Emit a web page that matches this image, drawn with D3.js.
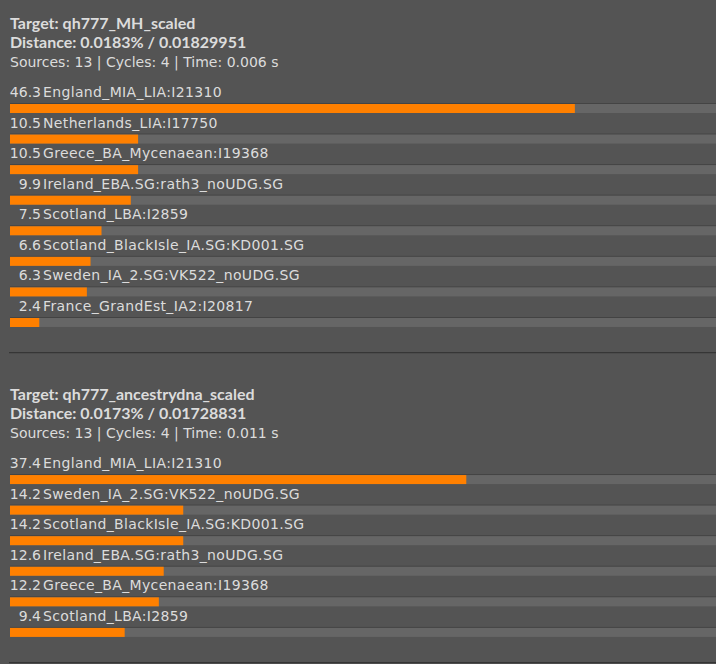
<!DOCTYPE html>
<html>
<head>
<meta charset="utf-8">
<script src="https://cdn.jsdelivr.net/npm/d3@7"></script>
<style>
  html, body { margin: 0; padding: 0; background: #545454; overflow: hidden; }
  text { font-family: "DejaVu Sans", sans-serif; fill: #dcdcdc; }
  text.head { font-family: Lato, sans-serif; font-weight: bold; font-size: 16px; }
  text.meta { font-size: 14px; }
  text.val { font-size: 14px; }
  text.lab { font-size: 14px; letter-spacing: 0.35px; }
</style>
</head>
<body>
<div id="chart"></div>
<script>
// run headers
const targets = ["qh777_MH_scaled", "qh777_ancestrydna_scaled"]
const distances = ["0.0183% / 0.01829951", "0.0173% / 0.01728831"]
const sources = [13, 13]
const cycles = [4, 4]
const times = ["0.006", "0.011"]

// per-run results
const labels1 = ["England_MIA_LIA:I21310", "Netherlands_LIA:I17750", "Greece_BA_Mycenaean:I19368",
                 "Ireland_EBA.SG:rath3_noUDG.SG", "Scotland_LBA:I2859", "Scotland_BlackIsle_IA.SG:KD001.SG",
                 "Sweden_IA_2.SG:VK522_noUDG.SG", "France_GrandEst_IA2:I20817"]
const values1 = [46.3, 10.5, 10.5, 9.9, 7.5, 6.6, 6.3, 2.4]
const labels2 = ["England_MIA_LIA:I21310", "Sweden_IA_2.SG:VK522_noUDG.SG", "Scotland_BlackIsle_IA.SG:KD001.SG",
                 "Ireland_EBA.SG:rath3_noUDG.SG", "Greece_BA_Mycenaean:I19368", "Scotland_LBA:I2859"]
const values2 = [37.4, 14.2, 14.2, 12.6, 12.2, 9.4]

const runs = [
    { labels: labels1, values: values1 },
    { labels: labels2, values: values2 }
]

const width = 716, height = 664
const rowStep = 30.57
const rowsTop = 103      // first track top, relative to block
const left = 10

const svg = d3.select("#chart").append("svg")
    .attr("width", width).attr("height", height)

// percent -> px (bars run past the window edge)
const x = d3.scaleLinear().domain([0, 100]).range([left, left + 1220])

let blockTop = 0
runs.forEach((run, r) => {
    const g = svg.append("g").attr("transform", `translate(0,${blockTop})`)
    const n = run.values.length
    const y = d3.scaleBand()
        .domain(d3.range(n))
        .range([rowsTop, rowsTop + n * rowStep])

    g.append("text").attr("class", "head").attr("x", left).attr("y", 28.5)
        .text(`Target: ${targets[r]}`)
    g.append("text").attr("class", "head").attr("x", left).attr("y", 47.5)
        .text(`Distance: ${distances[r]}`)
    g.append("text").attr("class", "meta").attr("x", left).attr("y", 66.5)
        .text(`Sources: ${sources[r]} | Cycles: ${cycles[r]} | Time: ${times[r]} s`)

    const rows = g.selectAll("g.row")
        .data(run.values.map((v, i) => ({ v, label: run.labels[i], i })))
        .enter().append("g").attr("class", "row")
        .attr("transform", d => `translate(0,${y(d.i)})`)

    rows.append("text").attr("class", "val")
        .attr("x", 41).attr("y", -6)
        .attr("text-anchor", "end")
        .text(d => d.v.toFixed(1))
    rows.append("text").attr("class", "lab")
        .attr("x", 43).attr("y", -6)
        .text(d => d.label)

    // track
    rows.append("rect")
        .attr("x", left).attr("y", 0)
        .attr("width", width - left).attr("height", 1)
        .attr("fill", "#444444")
    rows.append("rect")
        .attr("x", left).attr("y", 1)
        .attr("width", width - left).attr("height", 9)
        .attr("fill", "#666666")
    rows.append("rect")
        .attr("x", left).attr("y", 1)
        .attr("width", d => x(d.v) - x(0)).attr("height", 9)
        .attr("fill", "#ff8000")

    const sepY = rowsTop + n * rowStep + 4.5
    g.append("rect")
        .attr("x", 9).attr("y", sepY)
        .attr("width", width - 9).attr("height", 1.2)
        .attr("fill", "#353535")

    blockTop += sepY + 19
})
</script>
</body>
</html>
